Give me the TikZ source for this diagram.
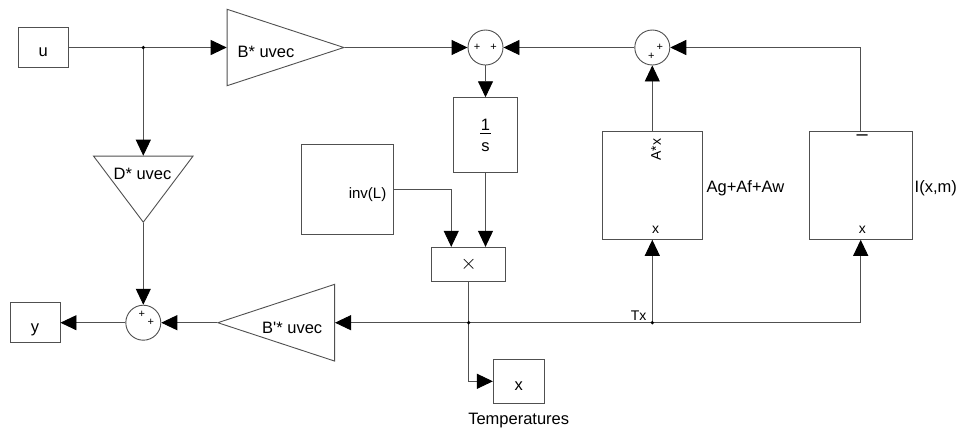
\documentclass[tikz,border=0pt]{standalone}
\usepackage{fontspec}
\setmainfont{Liberation Sans}
\usetikzlibrary{shapes.geometric, arrows.meta, positioning}
\definecolor{wiregray}{RGB}{80,80,80}
\newcommand{\blkfont}{\fontsize{16.5}{19.8}\selectfont}
\newcommand{\portfont}{\fontsize{14}{16.8}\selectfont}
\newcommand{\signfont}{\fontsize{11}{13.2}\selectfont}

\begin{document}
\begin{tikzpicture}[
    x=1pt, y=-1pt,
    blk/.style={rectangle, draw=wiregray, fill=white, line width=0.9pt, inner sep=0pt, font=\blkfont},
    iobox/.style={blk, text height=18.6pt, text depth=0pt},
    gain/.style={isosceles triangle, isosceles triangle stretches, draw=wiregray, fill=white, line width=0.9pt, inner sep=0pt},
    sumnode/.style={circle, draw=wiregray, fill=white, line width=0.9pt, minimum size=35pt, inner sep=0pt},
    txt/.style={inner sep=0pt, font=\blkfont},
    port/.style={inner sep=0pt, font=\portfont},
    sign/.style={inner sep=0pt, font=\signfont},
    wire/.style={draw=wiregray, line width=0.9pt},
    arrow/.style={wire, -{Triangle[length=16pt, width=15pt, color=black]}}
]
\useasboundingbox (0,0) rectangle (956,429);

% Inputs and outputs
\node[iobox, minimum width=50pt, minimum height=40pt] (uin) at (43.2,47.5) {u};
\node[iobox, minimum width=50pt, minimum height=40pt] (yout) at (35,322.7) {y};
\node[iobox, minimum width=50.7pt, minimum height=44pt] (xout) at (518.7,381.3) {x};
\node[txt, below=9pt of xout] (temps) {Temperatures};

% Gains
\node[gain, minimum width=76.4pt, minimum height=116.7pt, anchor=lower side] (bgain) at (226.7,47.5) {};
\node[gain, shape border rotate=-90, minimum width=99.4pt, minimum height=66pt, anchor=lower side] (dgain) at (143.3,155.7) {};
\node[gain, shape border rotate=180, minimum width=76.7pt, minimum height=116.7pt, anchor=lower side] (bpgain) at (335,322.7) {};
\node[txt, anchor=base] (btxt) at (266,57.3) {B* uvec};
\node[txt, anchor=base] (dtxt) at (142.5,179) {D* uvec};
\node[txt, anchor=base] (bptxt) at (292.2,333.3) {B\textquotesingle* uvec};

% Sums
\node[sumnode] (sumA) at (485.5,47.5) {};
\node[sumnode] (sumB) at (652.3,47.5) {};
\node[sumnode] (sumY) at (143.3,322.7) {};
\node[sign] (sA1) at ([shift={(-8.5,0)}]sumA.center) {+};
\node[sign] (sA2) at ([shift={(8,0)}]sumA.center) {+};
\node[sign] (sB1) at ([shift={(7.5,0)}]sumB.center) {+};
\node[sign] (sB2) at ([shift={(-1,8.5)}]sumB.center) {+};
\node[sign] (sY1) at ([shift={(-1.5,-8.5)}]sumY.center) {+};
\node[sign] (sY2) at ([shift={(7.5,0)}]sumY.center) {+};

% Blocks
\node[blk, minimum width=64pt, minimum height=75pt, align=center] (integ) at (485.5,135.2) {1\\[-17pt]\rule{10.5pt}{0.7pt}\\[-1.8pt]s};
\node[blk, minimum width=91.6pt, minimum height=90pt] (invL) at (347.5,189.3) {};
\node[txt, font=\fontsize{15}{18}\selectfont, anchor=east] (invtxt) at (386.5,194.4) {inv(L)};
\node[blk, minimum width=74pt, minimum height=34pt, font=\fontsize{21}{24}\selectfont] (prod) at (468.7,264.3) {$\times$};
\node[blk, minimum width=100.6pt, minimum height=108.3pt] (amat) at (652.3,185.2) {};
\node[blk, minimum width=103.3pt, minimum height=108.3pt] (imat) at (860.7,185.2) {};
\node[port, rotate=90] (ax) at (656,149.5) {A*x};
\node[port] (ain) at (655.5,230) {x};
\node[port, font=\fontsize{20}{24}\selectfont] (iminus) at (862.3,137.3) {–};
\node[port] (iin) at (862.3,230) {x};
\node[txt, right=3.4pt of amat.east, anchor=base west, yshift=-7.1pt] (alabel) {Ag+Af+Aw};
\node[txt, right=1.7pt of imat.east, anchor=base west, yshift=-7.1pt] (ilabel) {I(x,m)};

% Branch points
\coordinate (jU) at (143.3,47.5);
\coordinate (jT) at (468.7,322.7);
\coordinate (jTx) at (652.3,322.7);
\node[port] (tx) at (638.7,315.3) {Tx};

% Arrows
\draw[wire] (uin.east) -- (jU);
\draw[arrow] (jU) -- (bgain.lower side);
\draw[arrow] (jU) -- (dgain.lower side);
\draw[arrow] (dgain.apex) -- (sumY.north);
\draw[arrow] (bgain.apex) -- (sumA.west);
\draw[arrow] (sumB.west) -- (sumA.east);
\draw[arrow] (imat.north) |- (sumB.east);
\draw[arrow] (amat.north) -- (sumB.south);
\draw[arrow] (sumA.south) -- (integ.north);
\draw[arrow] (integ.south) -- (integ.south |- prod.north);
\draw[arrow] (invL.east) -| ([xshift=20pt]prod.north west);
\draw[wire] (prod.south) -- (jT);
\draw[arrow] (jT) -| (imat.south);
\draw[arrow] (jTx) -- (amat.south);
\draw[arrow] (jT) -- (bpgain.lower side);
\draw[arrow] (jT) |- (xout.west);
\draw[arrow] (bpgain.apex) -- (sumY.east);
\draw[arrow] (sumY.west) -- (yout.east);
\fill (jU) circle (1.8pt) (jT) circle (1.8pt) (jTx) circle (1.8pt);
\end{tikzpicture}
\end{document}
